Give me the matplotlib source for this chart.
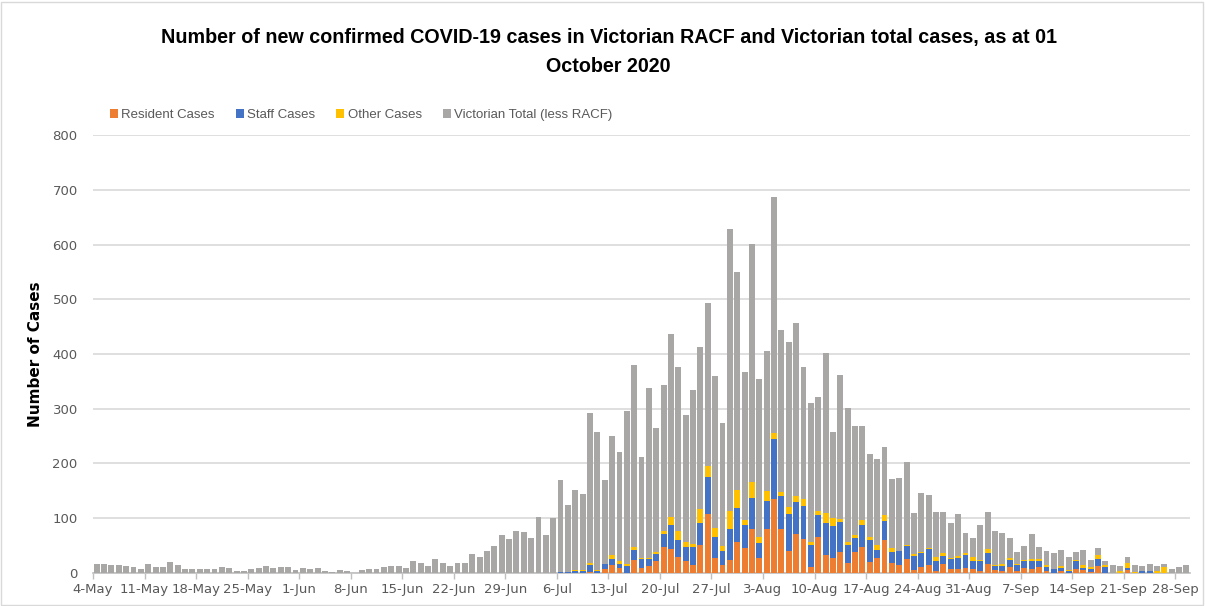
import numpy as np
import pandas as pd
import matplotlib
matplotlib.use("Agg")
import matplotlib.pyplot as plt
from matplotlib.patches import Rectangle

# daily values, 4 May 2020 .. 29 Sep 2020
start_date = "2020-05-04"

resident = [0] * 63 + [
    0, 0, 0, 0, 2, 0, 7, 15, 9, 0, 24, 9, 12, 21,
    47, 44, 29, 21, 15, 51, 107, 27, 14, 24, 57, 46, 80, 27,
    80, 136, 80, 41, 71, 62, 11, 66, 33, 28, 39, 18, 39, 48,
    20, 27, 60, 18, 14, 26, 6, 11, 15, 4, 16, 7, 7, 9,
    8, 4, 16, 5, 4, 10, 4, 9, 7, 10, 4, 0, 4, 0,
    8, 5, 2, 13, 0, 0, 0, 5, 0, 0, 0, 0, 0, 0, 0, 0]

staff = [0] * 63 + [
    2, 2, 4, 3, 13, 3, 9, 10, 8, 13, 18, 16, 13, 13,
    24, 43, 32, 27, 33, 41, 68, 38, 27, 57, 62, 41, 57, 28,
    52, 109, 60, 67, 58, 60, 40, 39, 59, 57, 55, 33, 25, 40,
    40, 15, 35, 20, 26, 23, 25, 25, 28, 17, 15, 18, 20, 23,
    13, 17, 21, 8, 9, 14, 10, 12, 15, 12, 6, 7, 5, 4,
    13, 4, 5, 12, 10, 0, 0, 4, 0, 4, 3, 0, 0, 0, 0, 0]

other = [0] * 63 + [
    0, 0, 2, 2, 4, 3, 0, 7, 4, 4, 5, 3, 3, 5,
    5, 15, 15, 8, 5, 25, 20, 18, 9, 32, 32, 9, 29, 11,
    18, 11, 8, 12, 12, 13, 6, 9, 17, 15, 5, 6, 5, 8,
    5, 10, 10, 7, 1, 3, 3, 3, 3, 9, 5, 2, 4, 5,
    8, 2, 6, 2, 3, 3, 2, 2, 4, 4, 4, 0, 3, 2,
    2, 6, 3, 7, 4, 0, 3, 9, 2, 0, 1, 4, 10, 0, 0, 0]

vic_total = [
    17, 17, 15, 14, 12, 10, 7, 17, 10, 10, 20, 14, 7, 7,
    7, 7, 7, 10, 9, 4, 4, 7, 9, 12, 9, 10, 10, 5,
    9, 8, 9, 4, 1, 5, 4, 0, 5, 8, 7, 10, 12, 13,
    9, 22, 18, 12, 26, 18, 13, 18, 18, 34, 29, 41, 49, 70,
    62, 77, 74, 64, 102, 70, 101,
    167, 122, 145, 140, 273, 251, 153, 218, 200, 279, 332, 184, 310, 226,
    267, 335, 300, 233, 282, 295, 299, 276, 224, 516, 398, 272, 435, 289,
    255, 431, 296, 302, 316, 241, 254, 208, 292, 157, 263, 245, 199, 172,
    153, 157, 126, 126, 133, 150, 76, 107, 97, 81, 75, 64, 77, 36,
    34, 64, 69, 61, 57, 36, 23, 27, 45, 22, 27, 29, 30, 24,
    16, 27, 14, 13, 7, 14, 10, 11, 13, 9, 12, 9, 6, 7, 11, 14]

dates = pd.date_range(start_date, periods=len(vic_total))
tick_labels = [f"{d.day}-{d.strftime('%b')}" for d in dates[::7]]

c_res = "#ED7D31"
c_staff = "#4472C4"
c_other = "#FFC000"
c_vic = "#A9A6A6"
txt_grey = "#595959"

fig = plt.figure(figsize=(12.05, 6.06), dpi=100)
ax = fig.add_axes([0.0772, 0.0545, 0.9104, 0.7227])

x = np.arange(len(vic_total))
res = np.array(resident)
stf = np.array(staff)
oth = np.array(other)
vic = np.array(vic_total)
w = 0.8
ax.bar(x, res, w, color=c_res, label="Resident Cases", zorder=3)
ax.bar(x, stf, w, bottom=res, color=c_staff, label="Staff Cases", zorder=3)
ax.bar(x, oth, w, bottom=res + stf, color=c_other, label="Other Cases", zorder=3)
ax.bar(x, vic, w, bottom=res + stf + oth, color=c_vic,
       label="Victorian Total (less RACF)", zorder=3)

ax.set_xlim(-0.5, len(vic_total) - 0.5)
ax.set_ylim(0, 800)
ax.set_yticks(range(0, 801, 100))
ax.yaxis.grid(True, color="#D9D9D9", linewidth=1.2, zorder=0)
ax.set_xticks(x[::7] - 0.5)
ax.set_xticklabels(tick_labels)
ax.tick_params(axis="x", colors=txt_grey, labelsize=9.5, length=4, width=1,
               color="#BFBFBF", pad=3)
ax.tick_params(axis="y", colors=txt_grey, labelsize=9.5, length=0, pad=11)
for s in ["top", "right", "left"]:
    ax.spines[s].set_visible(False)
ax.spines["bottom"].set_color("#BFBFBF")
ax.spines["bottom"].set_linewidth(1.2)

ax.set_ylabel("Number of Cases", fontsize=11, fontweight="bold", labelpad=7)

fig.text(0.505, 0.914, "Number of new confirmed COVID-19 cases in Victorian RACF and Victorian total cases, as at 01\nOctober 2020",
         ha="center", va="center", fontsize=14.2, fontweight="bold",
         family=["Liberation Sans", "DejaVu Sans"], linespacing=1.65)

leg = fig.legend(loc="center left", bbox_to_anchor=(0.087, 0.81), ncol=4,
                 frameon=False, handlelength=0.6, handleheight=0.6,
                 handletextpad=0.25, columnspacing=1.6, borderaxespad=0,
                 prop={"family": "Liberation Sans", "size": 9.5})
for t in leg.get_texts():
    t.set_color(txt_grey)

fig.patches.append(Rectangle((0.001, 0.002), 0.997, 0.995, transform=fig.transFigure,
                             fill=False, edgecolor="#D9D9D9", linewidth=1))

fig.savefig("out.png", dpi=100)
